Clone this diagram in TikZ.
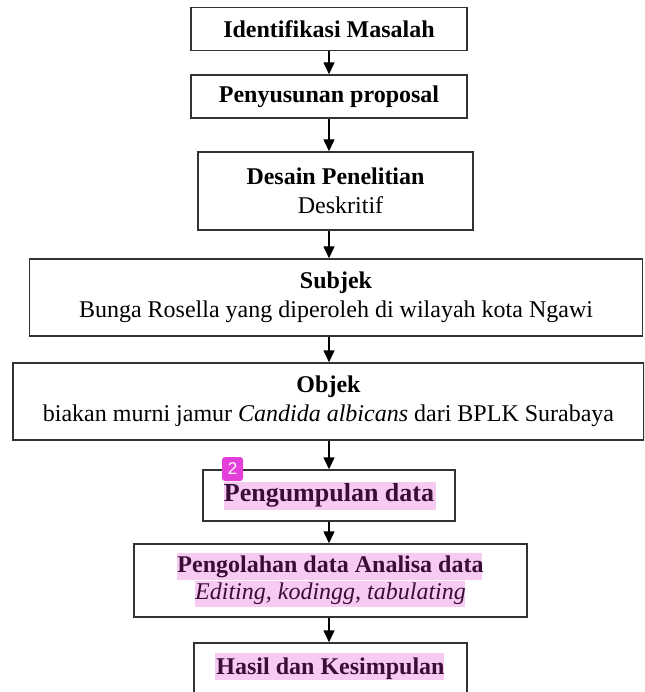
\documentclass[tikz,border=0pt]{standalone}
\usepackage{fontspec}
\setmainfont{Liberation Serif}
\setsansfont{Liberation Sans}
\usetikzlibrary{arrows.meta}
\definecolor{boxline}{HTML}{333333}
\definecolor{hlpink}{HTML}{F7CBF1}
\definecolor{hltext}{HTML}{3A0C36}
\definecolor{badgemag}{HTML}{E43FDA}
\tikzset{
  box/.style={draw=boxline, line width=1.4pt, rectangle, inner sep=0pt, align=center,
    font=\fontsize{24}{29}\selectfont},
  arr/.style={draw=black, line width=1.4pt, -{Triangle[length=12pt,width=11pt]}},
  hl/.style={fill=hlpink, draw=none},
  badge/.style={fill=badgemag, rounded corners=3pt, draw=none, inner sep=0pt,
    text=white, font=\sffamily\fontsize{17}{17}\selectfont}
}
\begin{document}
\begin{tikzpicture}[x=1pt,y=-1pt]
\useasboundingbox (0,0) rectangle (644,692);
\clip (0,0) rectangle (644,692);
\fill[white] (0,0) rectangle (644,692);
% highlights
\path[hl] (224,482) rectangle (436,510);
\path[hl] (177,553) rectangle (482,580);
\path[hl] (195,581) rectangle (465,607);
\path[hl] (215,653) rectangle (444,680);
% boxes
\node[box, minimum width=276pt, minimum height=43pt] (b1) at (329,29)
  {\textbf{Identifikasi Masalah}};
\node[box, minimum width=276pt, minimum height=43pt] (b2) at (329,96.5)
  {\textbf{Penyusunan proposal}};
\node[box, minimum width=275pt, minimum height=78pt] (b3) at (335.5,191)
  {\textbf{Desain Penelitian}\\\hspace*{10pt}Deskritif};
\node[box, minimum width=613pt, minimum height=77pt] (b4) at (336,297.5)
  {\textbf{Subjek}\\Bunga Rosella yang diperoleh di wilayah kota Ngawi};
\node[box, minimum width=631pt, minimum height=77pt] (b5) at (328.5,401.5)
  {\textbf{Objek}\\biakan murni jamur \textit{Candida albicans} dari BPLK Surabaya};
\node[box, minimum width=252pt, minimum height=51pt, text=hltext,
  font=\fontsize{26}{30}\selectfont] (b6) at (329,495.5)
  {\textbf{Pengumpulan data}};
\node[box, minimum width=393pt, minimum height=73pt, text=hltext,
  font=\fontsize{24}{27}\selectfont] (b7) at (330.5,580.5)
  {\textbf{Pengolahan data Analisa data}\\\textit{Editing, kodingg, tabulating}};
\node[box, minimum width=273pt, minimum height=60pt, text=hltext, text depth=14pt] (b8) at (330.5,673)
  {\textbf{Hasil dan Kesimpulan}};
% badge
\node[badge, minimum width=21pt, minimum height=24pt] (bd) at (232.5,469) {2};
% connectors
\draw[arr] (b1.south) -- (b2.north);
\draw[arr] (b2.south) -- (b2.south |- b3.north);
\draw[arr] (b3.south -| b2.south) -- (b4.north -| b2.south);
\draw[arr] (b4.south -| b2.south) -- (b5.north -| b2.south);
\draw[arr] (b5.south -| b6.north) -- (b6.north);
\draw[arr] (b6.south) -- (b6.south |- b7.north);
\draw[arr] (b7.south -| b6.south) -- (b8.north -| b6.south);
\end{tikzpicture}
\end{document}
